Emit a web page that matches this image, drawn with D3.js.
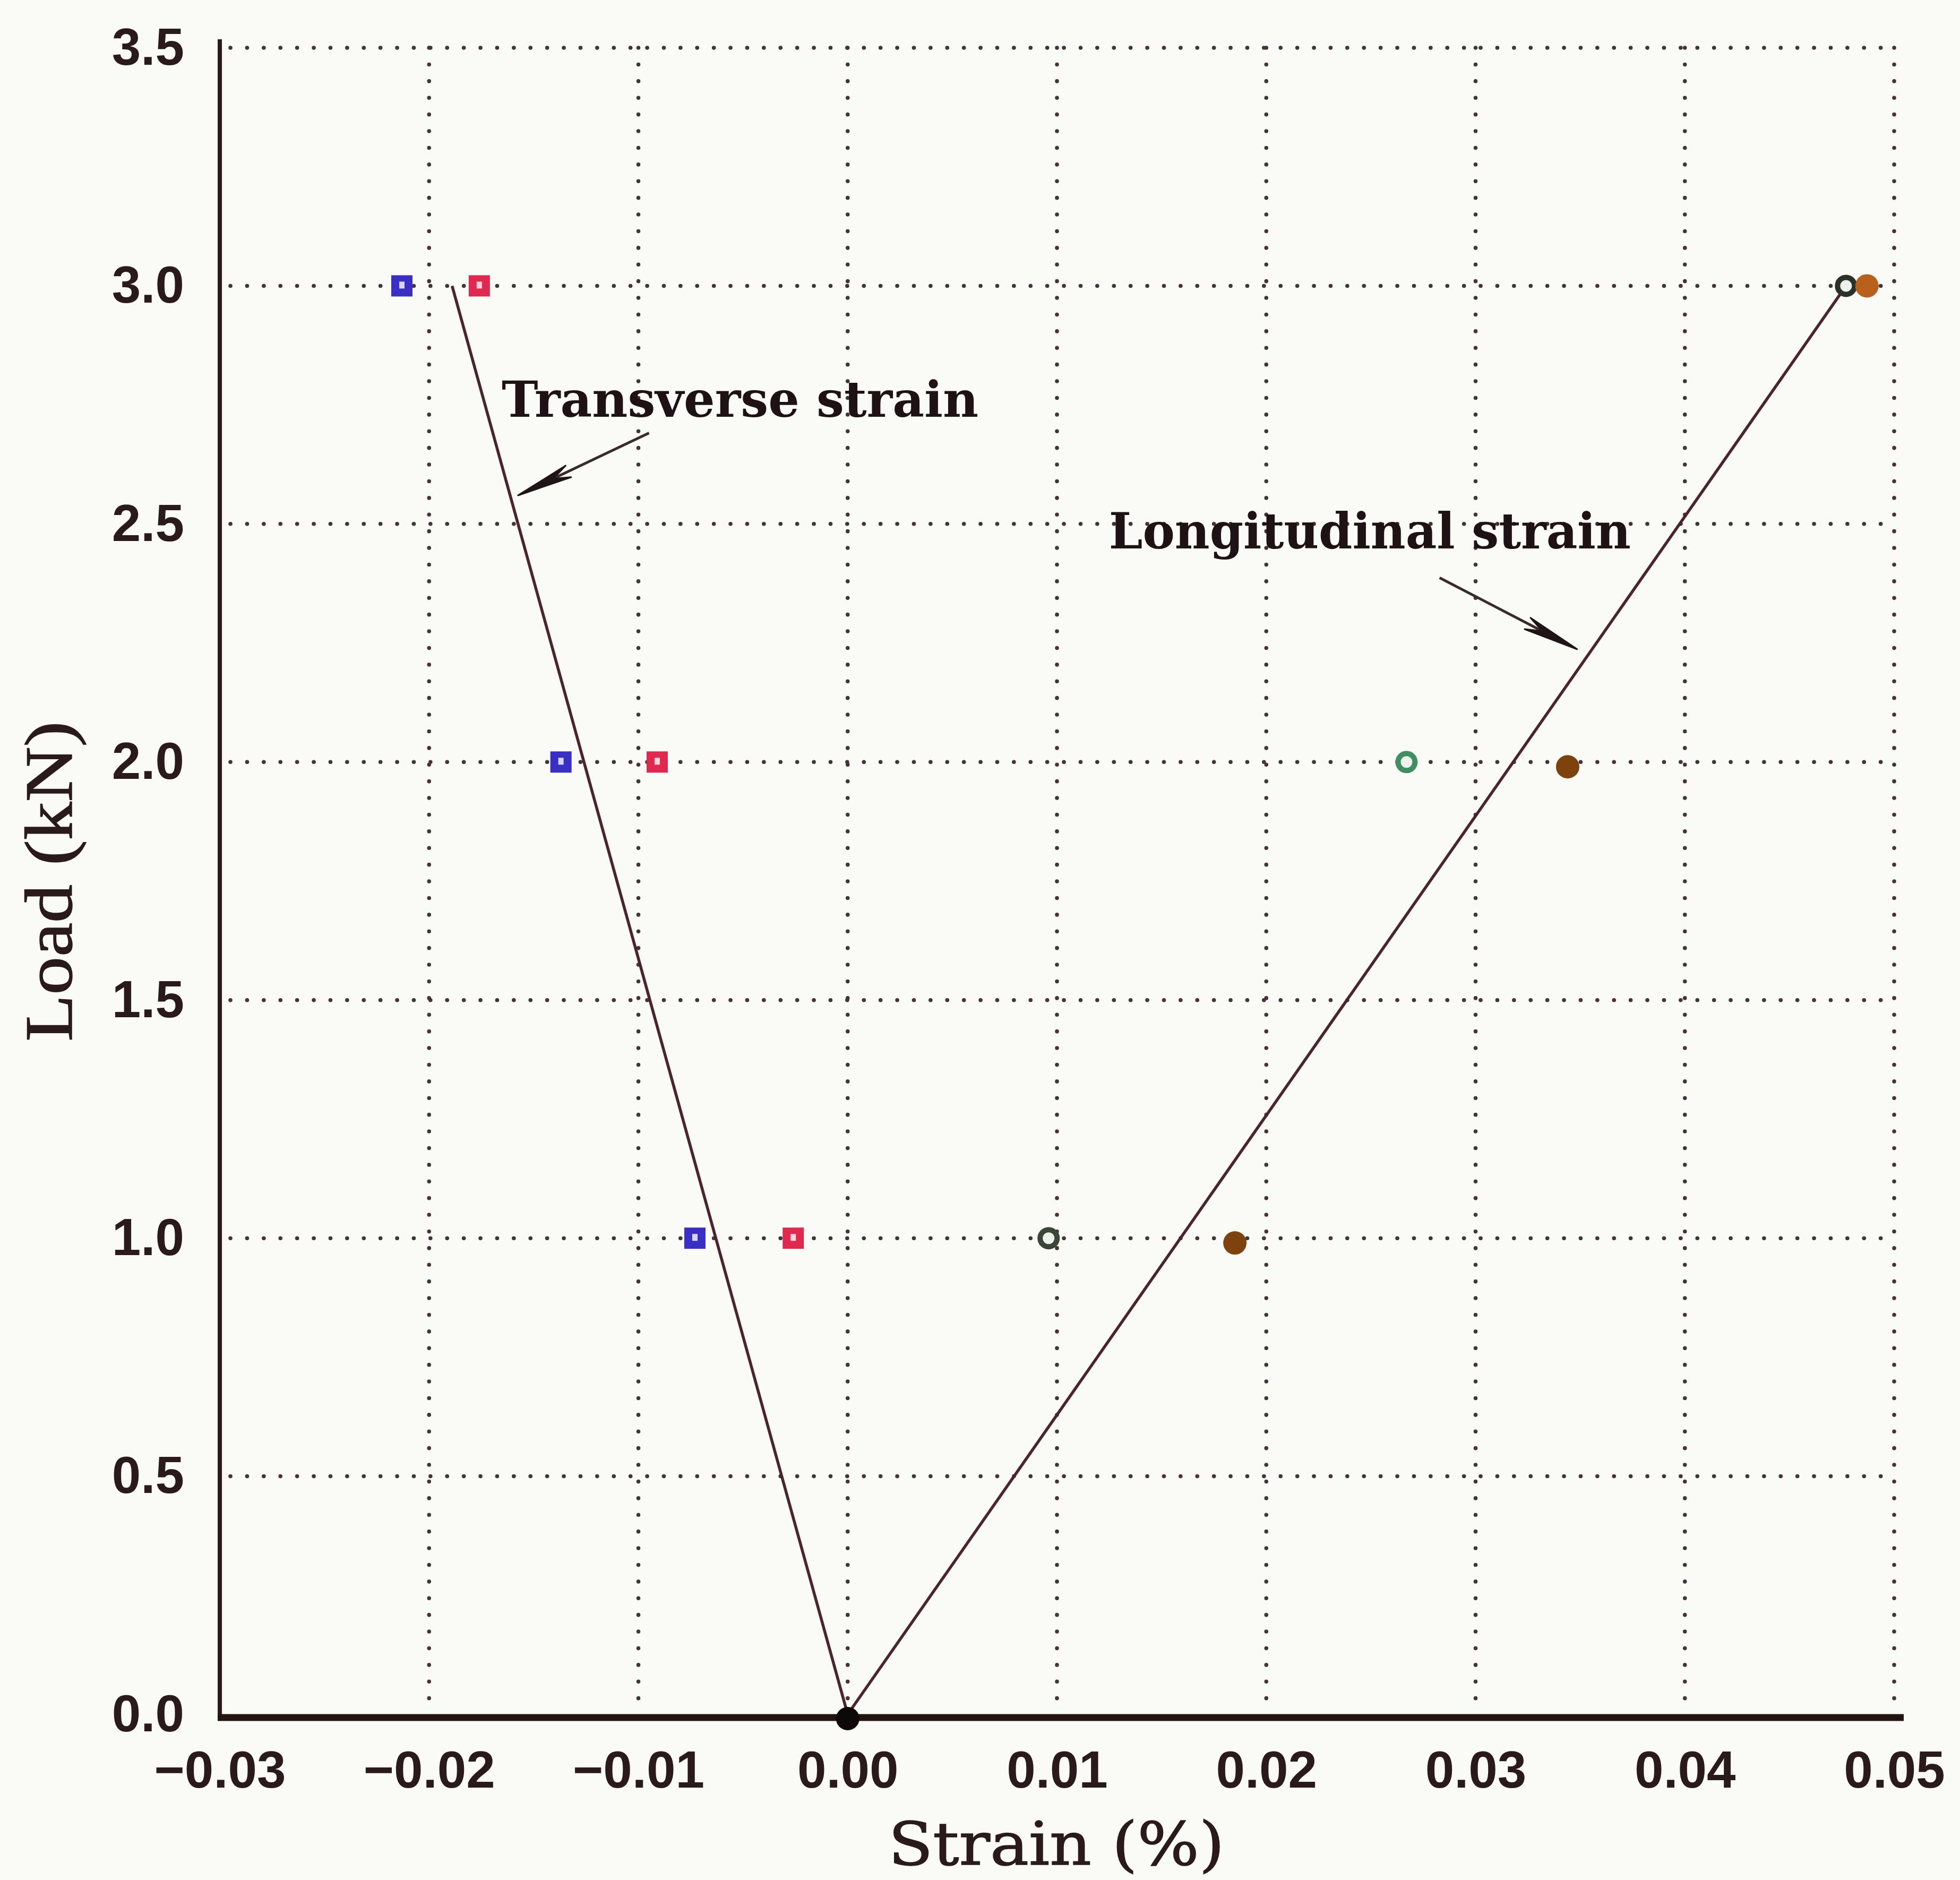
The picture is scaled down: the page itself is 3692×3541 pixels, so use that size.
<!DOCTYPE html>
<html>
<head>
<meta charset="utf-8">
<script src="https://cdn.jsdelivr.net/npm/d3@7"></script>
<style>
  body { margin: 0; background: #fafaf7; }
  .tick text { font-family: "Liberation Sans", Arial, sans-serif; font-weight: bold; font-size: 98px; fill: #2a1a1c; }
</style>
</head>
<body>
<script>
// load steps (kN) and strains (%)
var loads = [1.0, 2.0, 3.0];
var transverseBlue = [-0.0073, -0.0137, -0.0213];
var transverseRed = [-0.0026, -0.0091, -0.0176];
var longitudinalGreen = [0.0096, 0.0267, 0.0477];
var longitudinalBrown = [0.0185, 0.0344, 0.0487];
var brownLoads = [0.99, 1.99, 3.0];

// fitted lines
var transverseFit = [[0, 0], [-0.0189, 3.0]];
var longitudinalFit = [[0, 0], [0.0477, 3.0]];

var xTicks = [-0.03, -0.02, -0.01, 0.00, 0.01, 0.02, 0.03, 0.04, 0.05];
var yTicks = [0.0, 0.5, 1.0, 1.5, 2.0, 2.5, 3.0, 3.5];

var width = 3692, height = 3541;

var x = d3.scaleLinear().domain([-0.03, 0.05]).range([414, 3568]);
var y = d3.scaleLinear().domain([0, 3.5]).range([3229, 90]);

var svg = d3.select("body").append("svg")
    .attr("width", width)
    .attr("height", height);

svg.append("rect")
    .attr("width", width)
    .attr("height", height)
    .attr("fill", "#fafaf7");

// dotted grid
var grid = svg.append("g")
    .attr("stroke", "#45323a")
    .attr("stroke-width", 7.5)
    .attr("stroke-linecap", "round")
    .attr("stroke-dasharray", "0.1 31.3");

grid.selectAll(".vgrid")
    .data(xTicks.slice(1))
  .enter().append("line")
    .attr("class", "vgrid")
    .attr("x1", function (d) { return x(d); })
    .attr("x2", function (d) { return x(d); })
    .attr("y1", y(3.5))
    .attr("y2", y(0));

grid.selectAll(".hgrid")
    .data(yTicks.slice(1))
  .enter().append("line")
    .attr("class", "hgrid")
    .attr("x1", x(-0.03) + 20)
    .attr("x2", x(0.05))
    .attr("y1", function (d) { return y(d); })
    .attr("y2", function (d) { return y(d); });

// axes
var xAxis = d3.axisBottom(x).tickValues(xTicks).tickSize(0).tickPadding(68)
    .tickFormat(d3.format(".2f"));
var yAxis = d3.axisLeft(y).tickValues(yTicks).tickSize(0).tickPadding(67)
    .tickFormat(d3.format(".1f"));

var gX = svg.append("g")
    .attr("transform", "translate(0," + y(0) + ")")
    .call(xAxis);
gX.select(".domain").remove();

var gY = svg.append("g")
    .attr("transform", "translate(" + x(-0.03) + ",0)")
    .call(yAxis);
gY.select(".domain").remove();

svg.append("line")
    .attr("x1", x(-0.03))
    .attr("x2", x(-0.03))
    .attr("y1", y(3.5) - 16)
    .attr("y2", y(0) + 6)
    .attr("stroke", "#2a1a1c")
    .attr("stroke-width", 8);

svg.append("line")
    .attr("x1", x(-0.03) - 4)
    .attr("x2", x(0.05) + 18)
    .attr("y1", y(0) + 6)
    .attr("y2", y(0) + 6)
    .attr("stroke", "#22140f")
    .attr("stroke-width", 13);

// fit lines
var line = d3.line()
    .x(function (d) { return x(d[0]); })
    .y(function (d) { return y(d[1]); });

[transverseFit, longitudinalFit].forEach(function (fit) {
    svg.append("path")
        .datum(fit)
        .attr("d", line)
        .attr("fill", "none")
        .attr("stroke", "#4a262c")
        .attr("stroke-width", 5.5);
});

// markers
function squares(vals, color) {
    var g = svg.append("g");
    vals.forEach(function (v, i) {
        var cx = x(v), cy = y(loads[i]);
        g.append("rect")
            .attr("x", cx - 20).attr("y", cy - 20)
            .attr("width", 40).attr("height", 40)
            .attr("fill", color);
        g.append("rect")
            .attr("x", cx - 5).attr("y", cy - 8)
            .attr("width", 10).attr("height", 13)
            .attr("fill", "#ffffff")
            .attr("opacity", 0.8);
    });
}

function rings(vals, colors) {
    var g = svg.append("g");
    vals.forEach(function (v, i) {
        g.append("circle")
            .attr("cx", x(v)).attr("cy", y(loads[i]))
            .attr("r", 16)
            .attr("fill", "#eef2ec")
            .attr("stroke", colors[i])
            .attr("stroke-width", 10);
    });
}

squares(transverseBlue, "#3a2fc4");
squares(transverseRed, "#e0294f");
rings(longitudinalGreen, ["#3b4538", "#3f8f62", "#2c3128"]);

svg.append("g").selectAll("circle")
    .data(longitudinalBrown)
  .enter().append("circle")
    .attr("cx", function (d) { return x(d); })
    .attr("cy", function (d, i) { return y(brownLoads[i]); })
    .attr("r", 22)
    .attr("fill", function (d, i) { return i == 2 ? "#b8601c" : "#7e420e"; });

svg.append("circle")
    .attr("cx", x(0))
    .attr("cy", y(0) + 8)
    .attr("r", 22)
    .attr("fill", "#0f0808");

// annotations
function arrow(tail, tip) {
    var x0 = x(tail[0]), y0 = y(tail[1]), x1 = x(tip[0]), y1 = y(tip[1]);
    var a = Math.atan2(y1 - y0, x1 - x0);
    var len = 105, hw = 12;
    var bx = x1 - len * Math.cos(a), by = y1 - len * Math.sin(a);
    svg.append("line")
        .attr("x1", x0).attr("y1", y0)
        .attr("x2", bx + 30 * Math.cos(a)).attr("y2", by + 30 * Math.sin(a))
        .attr("stroke", "#3a2a2c")
        .attr("stroke-width", 5);
    svg.append("path")
        .attr("d", "M" + x1 + "," + y1 +
            "L" + (bx + hw * Math.sin(a)) + "," + (by - hw * Math.cos(a)) +
            "L" + (bx + 0.3 * len * Math.cos(a)) + "," + (by + 0.3 * len * Math.sin(a)) +
            "L" + (bx - hw * Math.sin(a)) + "," + (by + hw * Math.cos(a)) + "Z")
        .attr("fill", "#1f1416")
        .attr("stroke", "#1f1416")
        .attr("stroke-width", 3)
        .attr("stroke-linejoin", "round");
}

arrow([-0.00949, 2.691], [-0.01575, 2.560]);
arrow([0.02828, 2.387], [0.03485, 2.237]);

svg.append("text")
    .attr("x", x(-0.01653))
    .attr("y", y(2.725))
    .attr("font-family", "DejaVu Serif, serif")
    .attr("font-weight", "bold")
    .attr("font-size", 94)
    .attr("fill", "#1e1214")
    .attr("textLength", 898)
    .attr("lengthAdjust", "spacingAndGlyphs")
    .text("Transverse strain");

svg.append("text")
    .attr("x", x(0.01248))
    .attr("y", y(2.449))
    .attr("font-family", "DejaVu Serif, serif")
    .attr("font-weight", "bold")
    .attr("font-size", 94)
    .attr("fill", "#1e1214")
    .attr("textLength", 983)
    .attr("lengthAdjust", "spacingAndGlyphs")
    .text("Longitudinal strain");

// axis titles
svg.append("text")
    .attr("x", 1990)
    .attr("y", 3512)
    .attr("text-anchor", "middle")
    .attr("font-family", "DejaVu Serif, serif")
    .attr("font-size", 112)
    .attr("fill", "#2a1a1c")
    .attr("stroke", "#2a1a1c")
    .attr("stroke-width", 1.5)
    .attr("textLength", 633)
    .attr("lengthAdjust", "spacingAndGlyphs")
    .text("Strain (%)");

svg.append("text")
    .attr("transform", "translate(135,1660) rotate(-90)")
    .attr("text-anchor", "middle")
    .attr("font-family", "Liberation Serif, serif")
    .attr("font-size", 128)
    .attr("fill", "#2a1a1c")
    .attr("stroke", "#2a1a1c")
    .attr("stroke-width", 1.5)
    .attr("textLength", 603)
    .attr("lengthAdjust", "spacingAndGlyphs")
    .text("Load (kN)");
</script>
</body>
</html>
